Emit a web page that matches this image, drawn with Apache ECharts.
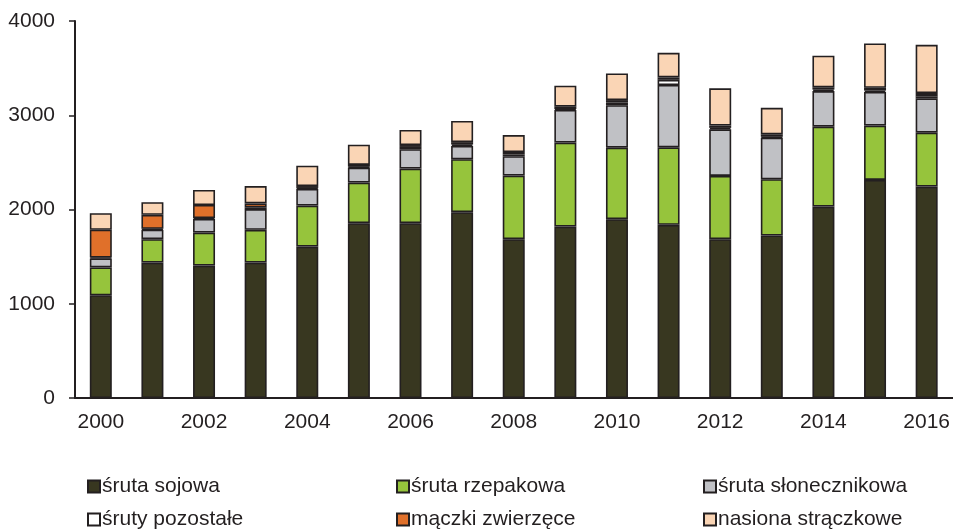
<!DOCTYPE html>
<html>
<head>
<meta charset="utf-8">
<script src="https://cdn.jsdelivr.net/npm/echarts@6/dist/echarts.min.js"></script>
<style>
  html, body { margin: 0; padding: 0; background: #fff; }
  #feedChart { width: 953px; height: 531px; }
</style>
</head>
<body>
<div id="feedChart"></div>
<script>
var years = ['2000','2001','2002','2003','2004','2005','2006','2007','2008','2009','2010','2011','2012','2013','2014','2015','2016'];
var sojowa      = [1090,1437,1405,1437,1607,1855,1855,1972,1685,1819,1897,1837,1685,1724,2031,2314,2243];
var rzepakowa   = [295, 248, 350, 347, 435, 431, 579, 561, 675, 891, 759, 823, 671, 597, 848, 576, 572];
var slonecznik  = [95,  100, 145, 220, 177, 159, 205, 142, 205, 346, 450, 661, 495, 441, 378, 357, 365];
var pozostale   = [10,  10,  10,  20,  10,  10,  25,  15,  20,  10,  30,  55,  15,  10,  15,  15,  20];
var zwierzece   = [295, 148, 138, 40,  20,  18,  20,  25,  25,  25,  25,  25,  25,  25,  25,  30,  35];
var straczkowe  = [175, 135, 160, 185, 215, 215, 160, 225, 180, 223, 283, 261, 395, 282, 335, 470, 512];
var yTicks = [0, 1000, 2000, 3000, 4000];

var myChart = echarts.init(document.getElementById('feedChart'))
var textColor = '#231f20'
var font = 'Liberation Sans, Arial, sans-serif'

function bar(name, data, color){
  return {
    name: name,
    type: 'bar',
    stack: 'total',
    barWidth: 22,
    data: data,
    itemStyle: { color: color, borderColor: '#231f20', borderWidth: 1.6 }
  }
}

// one legend per item, laid out in a 3x2 grid like the original
function legendItem(name, left, top){
  return {
    left: left,
    top: top,
    itemWidth: 12,
    itemHeight: 12,
    icon: 'rect',
    selectedMode: false,
    padding: 0,
    data: [name],
    textStyle: { color: textColor, fontSize: 21, fontFamily: font, padding: [0, 0, 0, -3] }
  }
}

var option = {
  animation: false,
  grid: { left: 75, right: 0, top: 21, bottom: 133, containLabel: false },
  legend: [
    legendItem('śruta sojowa', 87, 476),
    legendItem('śruta rzepakowa', 396, 476),
    legendItem('śruta słonecznikowa', 703, 476),
    legendItem('śruty pozostałe', 87, 509),
    legendItem('mączki zwierzęce', 396, 509),
    legendItem('nasiona strączkowe', 703, 509)
  ],
  xAxis: {
    type: 'category',
    data: years,
    axisLine: { lineStyle: { color: '#231f20', width: 2 } },
    axisTick: { interval: 1, length: 5, lineStyle: { color: '#231f20', width: 1.5 } },
    axisLabel: { interval: 1, color: textColor, fontSize: 21, fontFamily: font, margin: 14 }
  },
  yAxis: {
    type: 'value',
    min: yTicks[0],
    max: yTicks[yTicks.length - 1],
    interval: 1000,
    splitLine: { show: false },
    axisLine: { show: true, lineStyle: { color: '#231f20', width: 2 } },
    axisTick: { show: true, length: 6, lineStyle: { color: '#231f20', width: 1.5 } },
    axisLabel: { color: textColor, fontSize: 21, fontFamily: font, margin: 20,
      formatter: function(v){ return String(v) } }
  },
  series: [
    bar('śruta sojowa', sojowa, '#383720'),
    bar('śruta rzepakowa', rzepakowa, '#96c43c'),
    bar('śruta słonecznikowa', slonecznik, '#c0c1c5'),
    bar('śruty pozostałe', pozostale, '#ffffff'),
    bar('mączki zwierzęce', zwierzece, '#e0702a'),
    bar('nasiona strączkowe', straczkowe, '#fad5b5')
  ]
};
myChart.setOption(option)
</script>
</body>
</html>
